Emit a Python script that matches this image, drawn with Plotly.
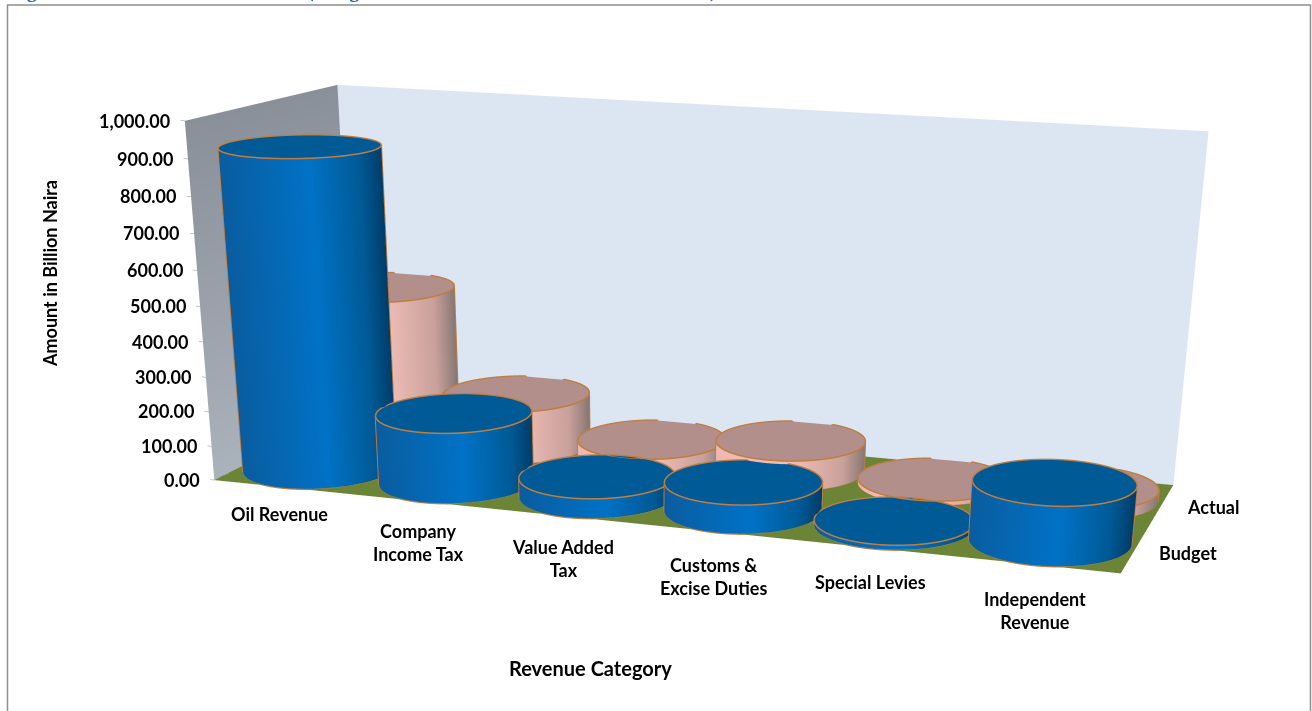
import numpy as np
import plotly.graph_objects as go

categories = ["Oil Revenue", "Company<br>Income Tax", "Value Added<br>Tax", "Customs &<br>Excise Duties", "Special Levies", "Independent<br>Revenue"]
series_names = ["Budget", "Actual"]
budget = [915, 200, 55, 80, 12, 162]
actual = [445, 155, 53, 88, 12, 30]
z_ticks = [0, 100, 200, 300, 400, 500, 600, 700, 800, 900, 1000]

# Figure canvas: the page shows its top-left 1312x711 corner, the long focal length needs the tall scene.
WF, H = 1440.0, 2000.0
X0 = -0.04
LO = np.array([-0.25, -0.1, 0.0])
HI = np.array([6.1, 2.1, 1005.0])
ASPECT = np.array([2.0, 0.7456, 0.7110 * 1005.0 / 1000.0])
eye = np.array([1.5835, -4.7760, 0.9690])
center = np.array([0.1785, -0.2975, -1.4092])
UP_X = -0.0142
# bars sit a touch left of the category centre, on the wall side
BAR_OFFSET = 0.47

k = ASPECT[:2] / (HI - LO)[:2]
fig = go.Figure()

def flat(x, y, z, c, cs):
    fig.add_trace(go.Surface(x=x, y=y, z=z, surfacecolor=c, cmin=0, cmax=1, colorscale=cs, showscale=False,
                             hoverinfo="skip", lighting=dict(ambient=1, diffuse=0, specular=0, fresnel=0, roughness=1)))

# walls and floor
Y, Zw = np.meshgrid([0, 2], [0, 1000])
flat(np.full_like(Y, X0, float), Y, Zw, Zw / 1000.0, [[0, "#aab2bb"], [1, "#8a9099"]])
Xw, Zb = np.meshgrid([X0, 6], [0, 1000])
flat(Xw, np.full_like(Xw, 2.0, float), Zb, np.zeros_like(Xw, float), [[0, "#dce6f2"], [1, "#dce6f2"]])
Xf, Yf = np.meshgrid([X0, 6], [0, 2])
flat(Xf, Yf, np.zeros_like(Xf, float), np.zeros_like(Xf, float), [[0, "#6b8436"], [1, "#6b8436"]])

blue_side = [[0, "#0a5c9e"], [0.55, "#0072c6"], [0.85, "#005a96"], [1, "#003c68"]]
blue_top = [[0, "#005a96"], [1, "#005a96"]]
pink_side = [[0, "#eeb8b1"], [0.5, "#f2bfb8"], [0.85, "#c9a09b"], [1, "#877772"]]
pink_top = [[0, "#b28f8a"], [1, "#b28f8a"]]

RX, RY = 0.50, 0.52
th = np.linspace(0, 2 * np.pi, 145)
rim = [[], [], []]

def cylinder(cx, cy, h, side, top):
    xs = cx + RX * np.cos(th)
    ys = cy + RY * np.sin(th)
    X = np.vstack([xs, xs]); Y = np.vstack([ys, ys])
    Z = np.vstack([np.zeros_like(th), np.full_like(th, h)])
    # silhouette angles and across-the-view shading as seen from the camera
    c_box = (np.array([cx, cy]) - LO[:2]) * k - ASPECT[:2] / 2
    A, B = k[0] * RX, k[1] * RY
    a_, b_ = (eye[0] - c_box[0]) / A, (eye[1] - c_box[1]) / B
    base = np.arctan2(b_, a_)
    d = np.arccos(1 / np.hypot(a_, b_))
    t1, t2 = base - d, base + d
    view = (eye[:2] - c_box) / np.linalg.norm(eye[:2] - c_box)
    perp = np.array([-view[1], view[0]])
    off = A * np.cos(th) * perp[0] + B * np.sin(th) * perp[1]
    span = np.abs(A * np.cos(np.array([t1, t2])) * perp[0] + B * np.sin(np.array([t1, t2])) * perp[1]).max()
    shade = np.clip((off / span + 1) / 2, 0, 1)
    flat(X, Y, Z, np.vstack([shade, shade]), side)
    flat(np.vstack([np.full_like(th, cx), xs]), np.vstack([np.full_like(th, cy), ys]),
         np.full((2, th.size), float(h)), np.zeros((2, th.size)), top)
    # outline slightly proud of the surfaces so it is not depth-fought away
    gx = cx + 1.002 * RX * np.cos(th)
    gy = cy + 1.002 * RY * np.sin(th)
    for zz in (0.0, float(h) + 1.5):
        rim[0] += list(gx) + [None]; rim[1] += list(gy) + [None]; rim[2] += [zz] * th.size + [None]
    for t in (t1, t2):
        ex, ey = cx + 1.002 * RX * np.cos(t), cy + 1.002 * RY * np.sin(t)
        rim[0] += [ex, ex, None]; rim[1] += [ey, ey, None]; rim[2] += [0, h, None]

for i, v in enumerate(actual):
    cylinder(i + BAR_OFFSET, 1.5, v, pink_side, pink_top)
for i, v in enumerate(budget):
    cylinder(i + BAR_OFFSET, 0.5, v, blue_side, blue_top)
fig.add_trace(go.Scatter3d(x=rim[0], y=rim[1], z=rim[2], mode="lines", line=dict(color="#c07d3f", width=3), hoverinfo="skip"))

tx, ty, tz = [], [], []
for t in z_ticks:
    tx += [X0 - 0.03, X0, None]; ty += [0, 0, None]; tz += [t, t, None]
fig.add_trace(go.Scatter3d(x=tx, y=ty, z=tz, mode="lines", line=dict(color="#8c8c8c", width=1), hoverinfo="skip"))

font = dict(family="Lato", size=18, color="black", weight=700)
annos = []
for t in z_ticks:
    annos.append(dict(x=X0 - 0.04, y=0, z=t, text=f"{t:,.2f}", showarrow=False, xanchor="right", xshift=-7, font=font))
shifts = [(-8, -26), (-9, -40), (-9, -42), (-9, -44), (-7, -34), (-3, -46)]
for i, c in enumerate(categories):
    annos.append(dict(x=i + 0.5, y=0, z=0, text=c, showarrow=False, xshift=shifts[i][0], yshift=shifts[i][1], font=font))
annos.append(dict(x=6, y=1.5, z=0, text=series_names[1], showarrow=False, xanchor="left", xshift=24, yshift=-2, font=font))
annos.append(dict(x=6, y=0.5, z=0, text=series_names[0], showarrow=False, xanchor="left", xshift=22, yshift=-4, font=font))

title_font = dict(family="Liberation Serif", size=20, color="#2b62a8", weight=700)
hidden = dict(visible=False, showbackground=False, showgrid=False, zeroline=False, showticklabels=False, showspikes=False)
fig.update_layout(
    width=WF, height=H, margin=dict(l=0, r=0, t=0, b=0), paper_bgcolor="white", showlegend=False,
    scene=dict(domain=dict(x=[0, 1], y=[0, 1]), aspectmode="manual",
               aspectratio=dict(x=ASPECT[0], y=ASPECT[1], z=ASPECT[2]), dragmode="orbit",
               xaxis=dict(range=[LO[0], HI[0]], **hidden), yaxis=dict(range=[LO[1], HI[1]], **hidden),
               zaxis=dict(range=[LO[2], HI[2]], **hidden),
               camera=dict(eye=dict(x=eye[0], y=eye[1], z=eye[2]), center=dict(x=center[0], y=center[1], z=center[2]),
                           up=dict(x=UP_X, y=0, z=1), projection=dict(type="perspective")),
               annotations=annos),
    shapes=[dict(type="rect", xref="paper", yref="paper", x0=7.5 / WF, x1=1310.5 / WF, y0=1 - 730 / H, y1=1 - 5 / H,
                 line=dict(color="#8e8e8e", width=1.5))],
    annotations=[dict(x=50 / WF, y=1 - 274 / H, xref="paper", yref="paper", text="Amount in Billion Naira", textangle=-90, xanchor="center", yanchor="middle", showarrow=False, font=dict(family="Lato", size=18, color="black", weight=700)),
                 dict(x=590 / WF, y=1 - 668 / H, xref="paper", yref="paper", text="Revenue Category", xanchor="center", yanchor="middle", showarrow=False, font=dict(family="Lato", size=20, color="black", weight=700)),
                 dict(x=7 / WF, y=1 - 4 / H, xref="paper", yref="paper", text="Figure", xanchor="left", yanchor="bottom", showarrow=False, font=title_font),
                 dict(x=305 / WF, y=1 - 4 / H, xref="paper", yref="paper", text="(Budget", xanchor="left", yanchor="bottom", showarrow=False, font=title_font),
                 dict(x=708 / WF, y=1 - 4 / H, xref="paper", yref="paper", text=")", xanchor="left", yanchor="bottom", showarrow=False, font=title_font)],
)
fig.write_html("out.html", post_script="document.body.style.overflow='hidden';")
